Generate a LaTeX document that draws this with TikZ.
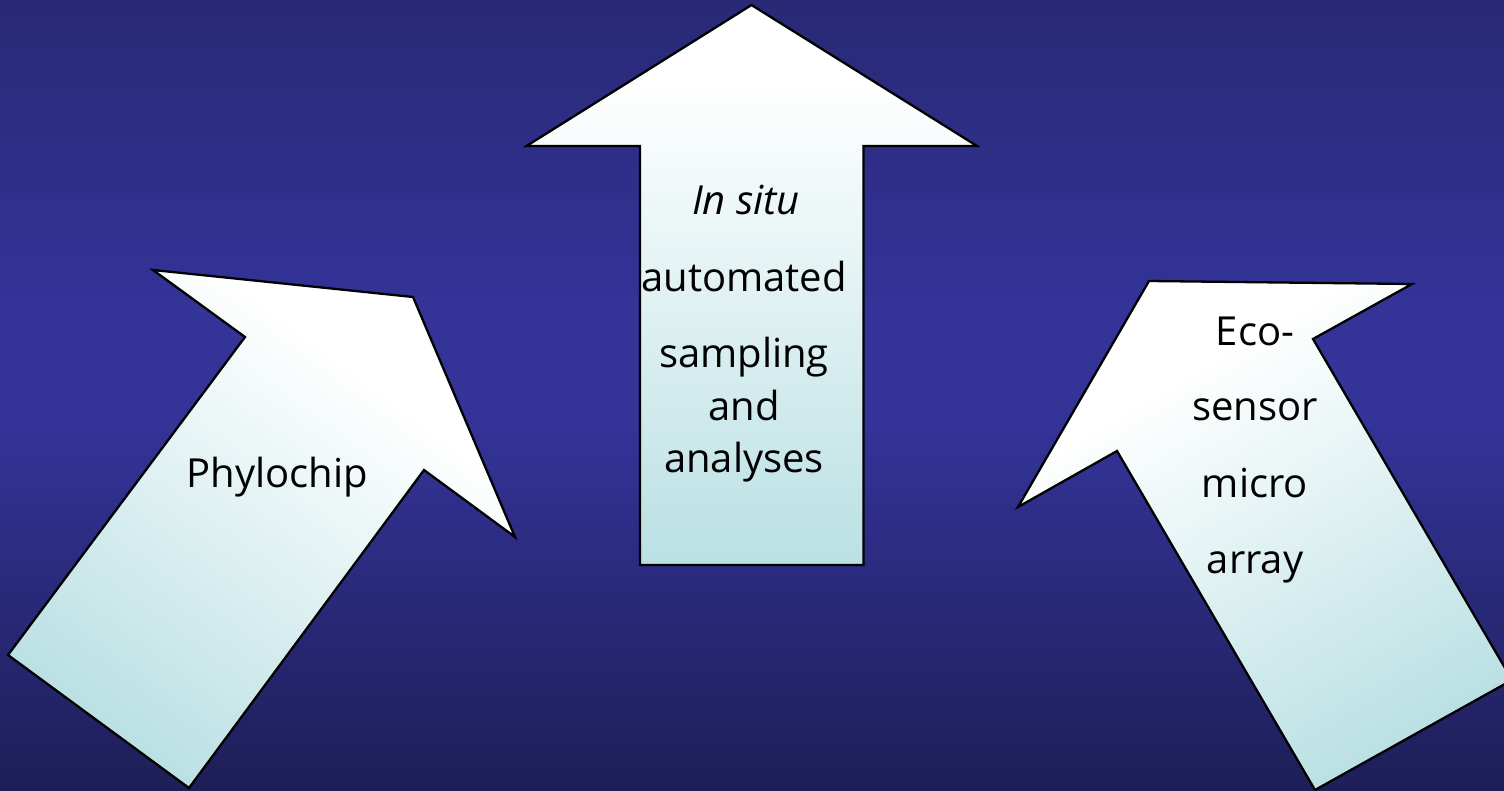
\documentclass[tikz,border=0pt]{standalone}
\usepackage{fontspec}
\setmainfont{Open Sans}
\definecolor{bgtop}{RGB}{41,41,118}
\definecolor{bgmid}{RGB}{51,51,152}
\definecolor{bgbot}{RGB}{30,30,88}
\definecolor{arrowlow}{RGB}{186,224,227}
% background: dark at the edges, brightest a little above the middle
\pgfdeclareverticalshading{sky}{100bp}{color(0bp)=(bgbot); color(25bp)=(bgbot); color(48bp)=(bgmid); color(56bp)=(bgmid); color(75bp)=(bgtop); color(100bp)=(bgtop)}
% arrow body: pale cyan at the tail, white towards the head
\pgfdeclareverticalshading{arrowfill}{100bp}{color(0bp)=(arrowlow); color(25bp)=(arrowlow); color(68bp)=(white); color(100bp)=(white)}
\tikzset{
  bigarrow/.style={draw=black, line width=2.3pt, line join=miter, shading=arrowfill},
  label/.style={font=\fontsize{40}{48}\selectfont, text=black, inner sep=0pt, anchor=base}
}
\begin{document}
\begin{tikzpicture}[x=1pt, y=-1pt]
  \useasboundingbox (0,0) rectangle (1504,791);
  \clip (0,0) rectangle (1504,791);
  \shade[shading=sky] (0,0) rectangle (1504,791);

  % left arrow, tilted to the upper right
  \path[bigarrow, shading angle=-36.6]
    (413,297) -- (515,537) -- (424,470) -- (189,788) -- (8,655)
    -- (245,337) -- (153,270) -- cycle;

  % middle arrow, pointing straight up
  \path[bigarrow]
    (751.5,5) -- (977,146) -- (863.5,146) -- (863.5,565) -- (640,565)
    -- (640,146) -- (526.5,146) -- cycle;

  % right arrow, tilted to the upper left
  \path[bigarrow, shading angle=30.2]
    (1149,281) -- (1412,284) -- (1313,339) -- (1512,680) -- (1315,790)
    -- (1117,451) -- (1018,507) -- cycle;

  \node[label] (phylo) at (277.5,487) {Phylochip};

  \node[label] (situ)  at (746,215) {\itshape In situ};
  \node[label] (auto)  at (744,292) {automated};
  \node[label] (samp)  at (744,367) {sampling};
  \node[label] (and)   at (744,420) {and};
  \node[label] (anal)  at (744,472) {analyses};

  \node[label] (eco)   at (1255,345) {Eco-};
  \node[label] (sens)  at (1255,420) {sensor};
  \node[label] (micro) at (1255,497) {micro};
  \node[label] (array) at (1255,573) {array};
\end{tikzpicture}
\end{document}
